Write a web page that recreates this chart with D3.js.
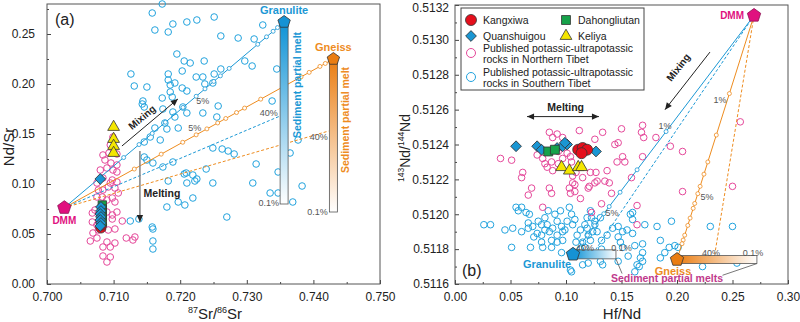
<!DOCTYPE html>
<html>
<head>
<meta charset="utf-8">
<script src="https://cdn.jsdelivr.net/npm/d3@7"></script>
<style>
  body { margin: 0; background: #fff; }
  text { font-family: "Liberation Sans", Arial, sans-serif; }
</style>
</head>
<body>
<svg id="chart" width="800" height="322"></svg>
<script>
// ---------- panel (a): 87Sr/86Sr vs Nd/Sr ----------
const aKangxiwa = [[0.7081,0.056],[0.7082,0.059]];
const aDahongliutan = [[0.7083,0.079],[0.7083,0.075],[0.7083,0.071],[0.7083,0.067],[0.7083,0.062]];
const aQuanshuigou = [[0.7080,0.105],[0.7081,0.077],[0.7081,0.073],[0.7080,0.070],[0.7081,0.067],[0.7080,0.064],[0.7081,0.061],[0.7080,0.058]];
const aKeliya = [[0.7100,0.157],[0.7100,0.145],[0.7100,0.138],[0.7100,0.131]];
const aNorthTibet = [
  [0.7084,0.129],[0.7093,0.131],[0.7105,0.130],[0.7087,0.124],[0.7096,0.121],[0.7105,0.119],[0.7090,0.116],
  [0.7099,0.114],[0.7080,0.114],[0.7105,0.112],[0.7084,0.106],[0.7098,0.104],[0.7105,0.102],[0.7075,0.101],
  [0.7095,0.101],[0.7092,0.097],[0.7102,0.096],[0.7077,0.094],[0.7084,0.094],[0.7107,0.091],[0.7083,0.087],
  [0.7098,0.086],[0.7090,0.084],[0.7102,0.082],[0.7075,0.087],[0.7068,0.071],[0.7072,0.074],[0.7090,0.072],
  [0.7105,0.072],[0.7098,0.069],[0.7068,0.062],[0.7098,0.065],[0.7113,0.063],[0.7075,0.059],[0.7077,0.054],
  [0.7092,0.054],[0.7102,0.055],[0.7069,0.051],[0.7065,0.043],[0.7075,0.046],[0.7090,0.042],[0.7102,0.041],
  [0.7084,0.037],[0.7095,0.037],[0.7084,0.028],[0.7095,0.027],[0.7090,0.022],[0.7119,0.046],[0.7129,0.044],
  [0.7132,0.047],[0.7099,0.147],[0.7095,0.139]
];
const aSouthTibet = [
  [0.7173,0.280],[0.7158,0.271],[0.7162,0.254],[0.7182,0.252],[0.7189,0.260],[0.7210,0.262],[0.7225,0.264],
  [0.7251,0.267],[0.7261,0.248],[0.7287,0.246],[0.7324,0.259],[0.7311,0.245],[0.7195,0.230],[0.7215,0.221],
  [0.7236,0.223],[0.7206,0.223],[0.7297,0.223],[0.7308,0.218],[0.7126,0.210],[0.7131,0.198],[0.7150,0.197],
  [0.7182,0.210],[0.7182,0.204],[0.7185,0.199],[0.7192,0.201],[0.7203,0.196],[0.7210,0.193],[0.7203,0.213],
  [0.7224,0.207],[0.7234,0.207],[0.7237,0.200],[0.7251,0.210],[0.7261,0.215],[0.7249,0.201],[0.7185,0.192],
  [0.7188,0.187],[0.7173,0.186],[0.7144,0.183],[0.7143,0.180],[0.7146,0.177],[0.7174,0.175],[0.7189,0.172],
  [0.7204,0.177],[0.7192,0.167],[0.7210,0.171],[0.7234,0.171],[0.7257,0.178],[0.7255,0.167],[0.7177,0.161],
  [0.7162,0.156],[0.7180,0.155],[0.7197,0.156],[0.7155,0.147],[0.7146,0.127],[0.7146,0.142],[0.7170,0.144],
  [0.7345,0.215],[0.7338,0.183],[0.7249,0.136],[0.7263,0.135],[0.7272,0.133],[0.7281,0.130],[0.7377,0.144],
  [0.7365,0.131],[0.7314,0.120],[0.7347,0.112],[0.7209,0.111],[0.7219,0.109],[0.7225,0.105],[0.7210,0.101],
  [0.7249,0.101],[0.7309,0.101],[0.7383,0.098],[0.7335,0.091],[0.7347,0.091],[0.7219,0.086],[0.7207,0.079],
  [0.7369,0.082],[0.7270,0.067],[0.7239,0.115],[0.7150,0.124],[0.7159,0.121],[0.7174,0.117],[0.7189,0.122],
  [0.7182,0.103],[0.7206,0.110],[0.7222,0.103],[0.7197,0.082],[0.7180,0.077],[0.7125,0.063],[0.7138,0.065],
  [0.7158,0.057],[0.7159,0.055],[0.7159,0.043],[0.7159,0.035]
];
// end members and melting trends
const aDMM = [0.7026, 0.0763];
const aGranulite = [0.7356, 0.262];
const aGneiss = [0.7430, 0.225];
const aGranulite40 = [0.7350, 0.168];
const aGneiss40 = [0.7423, 0.153];
const aGranuliteMin = 0.080;   // Nd/Sr of 0.1% melt
const aGneissMin = 0.072;
const aGranuliteTicks = [0.27,0.34,0.40,0.46,0.54,0.60,0.64,0.68,0.71,0.75,0.88,0.92,0.95,0.97];
const aGneissTicks = [0.26,0.36,0.44,0.49,0.53,0.57,0.60,0.64,0.67,0.73,0.88,0.91,0.95,0.97];
const aXTicks = [0.70,0.71,0.72,0.73,0.74,0.75];
const aYTicks = [0,0.05,0.10,0.15,0.20,0.25];

// ---------- panel (b): Hf/Nd vs 143Nd/144Nd ----------
const bKangxiwa = [[0.111,0.51237],[0.115,0.51238],[0.119,0.51237],[0.114,0.51235]];
const bDahongliutan = [[0.084,0.51236],[0.090,0.51237]];
const bQuanshuigou = [[0.055,0.51239],[0.074,0.51239],[0.078,0.51237],[0.092,0.51238],[0.097,0.51239],
  [0.101,0.51240],[0.099,0.51241],[0.127,0.51236]];
const bKeliya = [[0.096,0.51227],[0.103,0.51225],[0.111,0.51227],[0.114,0.51227]];
const bNorthTibet = [
  [0.085,0.51247],[0.092,0.51246],[0.097,0.51244],[0.088,0.51244],[0.112,0.51248],[0.133,0.51247],[0.126,0.51243],
  [0.041,0.51232],[0.051,0.51231],[0.081,0.51229],[0.087,0.51230],[0.093,0.51229],[0.105,0.51230],[0.083,0.51227],
  [0.088,0.51225],[0.109,0.51224],[0.122,0.51224],[0.127,0.51224],[0.137,0.51225],[0.061,0.51224],[0.060,0.51221],
  [0.115,0.51221],[0.128,0.51219],[0.139,0.51218],[0.069,0.51215],[0.085,0.51215],[0.103,0.51215],[0.120,0.51215],
  [0.087,0.51212],[0.104,0.51212],[0.108,0.51217],[0.066,0.51211],[0.113,0.51209],[0.132,0.51206],[0.141,0.51212],
  [0.079,0.51204],[0.144,0.51240],[0.146,0.51230],[0.147,0.51241],[0.093,0.51236],[0.083,0.51236],[0.101,0.51235],
  [0.079,0.51232],[0.097,0.51232],[0.104,0.51233],[0.074,0.51234],[0.106,0.51218],[0.108,0.51213],[0.121,0.51216],
  [0.123,0.51201],[0.106,0.51222],[0.150,0.51249],[0.169,0.51251],[0.168,0.51247],[0.170,0.51244],[0.181,0.51244],
  [0.194,0.51239],[0.205,0.51236],[0.257,0.51253],[0.151,0.51233],[0.153,0.51230],[0.169,0.51233],[0.135,0.51219],
  [0.126,0.51218],[0.159,0.51221],[0.164,0.51205],[0.164,0.51194],[0.205,0.51213],[0.250,0.51216]
];
const bSouthTibet = [
  [0.026,0.51194],[0.032,0.51194],[0.052,0.51192],[0.055,0.51204],[0.060,0.51204],[0.057,0.51202],[0.064,0.51201],
  [0.067,0.51200],[0.066,0.51195],[0.070,0.51193],[0.075,0.51196],[0.078,0.51194],[0.081,0.51198],[0.083,0.51194],
  [0.074,0.51189],[0.071,0.51187],[0.078,0.51188],[0.085,0.51190],[0.088,0.51192],[0.092,0.51196],[0.096,0.51193],
  [0.101,0.51196],[0.103,0.51204],[0.105,0.51200],[0.106,0.51194],[0.097,0.51190],[0.092,0.51188],[0.087,0.51185],
  [0.078,0.51184],[0.068,0.51181],[0.079,0.51181],[0.092,0.51184],[0.097,0.51185],[0.110,0.51188],[0.113,0.51191],
  [0.117,0.51194],[0.119,0.51198],[0.123,0.51198],[0.126,0.51194],[0.128,0.51190],[0.120,0.51188],[0.115,0.51184],
  [0.109,0.51184],[0.132,0.51185],[0.137,0.51188],[0.126,0.51196],[0.131,0.51198],[0.142,0.51192],[0.147,0.51193],
  [0.151,0.51190],[0.160,0.51189],[0.160,0.51201],[0.158,0.51200],[0.160,0.51197],[0.167,0.51175],[0.169,0.51173],
  [0.162,0.51167],[0.164,0.51171],[0.169,0.51183],[0.147,0.51173],[0.131,0.51173],[0.120,0.51172],[0.104,0.51168],
  [0.096,0.51178],[0.051,0.51181],[0.066,0.51192],[0.171,0.51194],[0.182,0.51193],[0.195,0.51196],[0.230,0.51193],
  [0.250,0.51193],[0.185,0.51185],[0.193,0.51181],[0.201,0.51181],[0.198,0.51182],[0.189,0.51178],[0.185,0.51175],
  [0.169,0.51178],[0.166,0.51170],[0.162,0.51182],[0.149,0.51184],[0.147,0.51187],[0.155,0.51191],[0.133,0.51171],
  [0.119,0.51192],[0.124,0.51190],[0.122,0.51185],[0.223,0.51170],[0.254,0.51172],[0.132,0.51180],[0.060,0.51190],
  [0.045,0.51191],[0.105,0.51167],[0.084,0.51202],[0.095,0.51202],[0.090,0.51200],[0.099,0.51191],[0.081,0.51191],
  [0.108,0.51197],[0.122,0.51202],[0.087,0.51181],[0.113,0.51180],[0.117,0.51181],[0.151,0.51181],[0.156,0.51176],
  [0.115,0.51171]
];
const bDMM = [0.2694, 0.51314];
const bGranulite = [0.1063, 0.51177];
const bGneiss = [0.2000, 0.51174];
const bGranulite40 = [0.127, 0.51180];
const bGneiss40 = [0.234, 0.51177];
const bGranuliteMin = 0.145;   // Hf/Nd of 0.1% melt
const bGneissMin = 0.272;
const bGranuliteTicks = [0.486,0.646,0.74,0.80,0.83,0.88,0.92,0.95];
const bGneissTicks = [0.32,0.49,0.60,0.65,0.70,0.73,0.77,0.79,0.83,0.86,0.90,0.92,0.935];
const bXTicks = [0,0.05,0.10,0.15,0.20,0.25,0.30];
const bYTicks = [0.5116,0.5118,0.5120,0.5122,0.5124,0.5126,0.5128,0.5130,0.5132];

// colours
const cBlue = "#22a3de", cLine = "#1b98d5", cOrange = "#ee8c1f", cPink = "#e5489a",
      cDMM = "#e0117f", cRed = "#e50f1c", cGreen = "#17a24a", cDia = "#1a96d3",
      cYellow = "#f4e600", cEdge = "#333", cGrey = "#555";

const svg = d3.select("#chart");

const xa = d3.scaleLinear().domain([0.70, 0.75]).range([47, 380]);
const ya = d3.scaleLinear().domain([0, 0.28]).range([284, 4]);
const xb = d3.scaleLinear().domain([0, 0.30]).range([455, 788]);
const yb = d3.scaleLinear().domain([0.5116, 0.5132]).range([284, 5]);

// gradients for the sediment melt bars
const defs = svg.append("defs");
function grad(id, color, vertical) {
  const g = defs.append("linearGradient").attr("id", id)
    .attr("x1", 0).attr("y1", 0).attr("x2", vertical ? 0 : 1).attr("y2", vertical ? 1 : 0);
  g.append("stop").attr("offset", 0).attr("stop-color", color);
  g.append("stop").attr("offset", 1).attr("stop-color", "#fff");
}
grad("gGranA", "#0f93d6", true);
grad("gGneissA", "#ea7d12", true);
grad("gGranB", "#0f93d6", false);
grad("gGneissB", "#ea7d12", false);

function pentagon(r) {
  const pts = d3.range(5).map(k => {
    const a = -Math.PI / 2 + k * 2 * Math.PI / 5;
    return [r * Math.cos(a), r * Math.sin(a)];
  });
  return "M" + pts.map(p => p.join(",")).join("L") + "Z";
}

// frame + ticks
function drawAxes(x, y, xt, yt, xf, yf, xMinor, yMinor, yPad) {
  const [x0, x1] = x.range(), [y0, y1] = y.range();
  const ax = svg.append("g").attr("transform", `translate(0,${y0})`)
    .call(d3.axisBottom(x).tickValues(xt).tickFormat(xf).tickSizeInner(-4).tickSizeOuter(0).tickPadding(8));
  const axm = svg.append("g").attr("transform", `translate(0,${y0})`)
    .call(d3.axisBottom(x).tickValues(xMinor).tickFormat("").tickSizeInner(-2).tickSizeOuter(0));
  const ay = svg.append("g").attr("transform", `translate(${x0},0)`)
    .call(d3.axisLeft(y).tickValues(yt).tickFormat(yf).tickSizeInner(-4).tickSizeOuter(0).tickPadding(yPad));
  const aym = svg.append("g").attr("transform", `translate(${x0},0)`)
    .call(d3.axisLeft(y).tickValues(yMinor).tickFormat("").tickSizeInner(-2).tickSizeOuter(0));
  [ax, axm, ay, aym].forEach(g => {
    g.select(".domain").remove();
    g.selectAll("line").attr("stroke", "#444");
    g.selectAll("text").attr("font-size", 12).attr("fill", "#222")
      .attr("font-family", "'Liberation Sans', Arial, sans-serif");
  });
  // keep the topmost y label inside the page
  ay.selectAll("text").filter(d => y(d) < 8).attr("dy", "0.5em");
  svg.append("rect").attr("x", x0).attr("y", y1).attr("width", x1 - x0).attr("height", y0 - y1)
    .attr("fill", "none").attr("stroke", "#555").attr("stroke-width", 1);
}

function openCircles(data, x, y, color) {
  svg.append("g").selectAll("circle").data(data).join("circle")
    .attr("cx", d => x(d[0])).attr("cy", d => y(d[1])).attr("r", 3.3)
    .attr("fill", "none").attr("stroke", color).attr("stroke-width", 1);
}

function samples(data, x, y, type, size, fill, rot) {
  svg.append("g").selectAll("path").data(data).join("path")
    .attr("d", d3.symbol().type(type).size(size))
    .attr("transform", d => `translate(${x(d[0])},${y(d[1])}) rotate(${rot || 0})`)
    .attr("fill", fill).attr("stroke", cEdge).attr("stroke-width", 0.8);
}

function mixLine(x, y, a, b, color, dashed, ticks) {
  svg.append("line")
    .attr("x1", x(a[0])).attr("y1", y(a[1])).attr("x2", x(b[0])).attr("y2", y(b[1]))
    .attr("stroke", color).attr("stroke-width", 1)
    .attr("stroke-dasharray", dashed ? "3,2" : null);
  if (ticks) {
    svg.append("g").selectAll("circle").data(ticks).join("circle")
      .attr("cx", t => x(a[0] + t * (b[0] - a[0])))
      .attr("cy", t => y(a[1] + t * (b[1] - a[1])))
      .attr("r", 2).attr("fill", "#fff").attr("stroke", color).attr("stroke-width", 0.8);
  }
}

function label(txt, x, y, opts) {
  const o = Object.assign({ size: 9, fill: cGrey, weight: "normal", anchor: "middle", rotate: 0 }, opts);
  return svg.append("text")
    .attr("transform", `translate(${x},${y}) rotate(${o.rotate})`)
    .attr("text-anchor", o.anchor).attr("font-size", o.size).attr("font-weight", o.weight)
    .attr("fill", o.fill).text(txt);
}

function arrow(x1, y1, x2, y2, color, width, both) {
  const ang = Math.atan2(y2 - y1, x2 - x1), L = 7, W = 3.2;
  function head(px, py, a) {
    const bx = px - L * Math.cos(a), by = py - L * Math.sin(a);
    svg.append("path")
      .attr("d", `M${px},${py}L${bx + W * Math.sin(a)},${by - W * Math.cos(a)}L${bx - W * Math.sin(a)},${by + W * Math.cos(a)}Z`)
      .attr("fill", "#222");
  }
  svg.append("line").attr("x1", x1).attr("y1", y1).attr("x2", x2).attr("y2", y2)
    .attr("stroke", color).attr("stroke-width", width);
  head(x2, y2, ang);
  if (both) head(x1, y1, ang + Math.PI);
}

// ================= panel (a) =================
drawAxes(xa, ya, aXTicks, aYTicks, d3.format(".3f"), d3.format(".2f"),
  d3.range(0.705, 0.75, 0.01), d3.range(0.025, 0.28, 0.05), 12);

openCircles(aSouthTibet, xa, ya, cBlue);
openCircles(aNorthTibet, xa, ya, cPink);

mixLine(xa, ya, aDMM, aGranulite40, cLine, true);
mixLine(xa, ya, aDMM, aGneiss40, cOrange, true);
mixLine(xa, ya, aDMM, aGranulite, cLine, false, aGranuliteTicks);
mixLine(xa, ya, aDMM, aGneiss, cOrange, false, aGneissTicks);

samples(aKangxiwa, xa, ya, d3.symbolCircle, 80, cRed);
samples(aDahongliutan, xa, ya, d3.symbolSquare, 70, cGreen);
samples(aQuanshuigou, xa, ya, d3.symbolSquare, 58, cDia, 45);
samples(aKeliya, xa, ya, d3.symbolTriangle, 60, cYellow);

// sediment melt bars
svg.append("rect").attr("x", xa(aGranulite[0]) - 4).attr("y", ya(aGranulite[1]))
  .attr("width", 8).attr("height", ya(aGranuliteMin) - ya(aGranulite[1]))
  .attr("fill", "url(#gGranA)").attr("stroke", "#555").attr("stroke-width", 0.8);
svg.append("rect").attr("x", xa(aGneiss[0]) - 4).attr("y", ya(aGneiss[1]))
  .attr("width", 8).attr("height", ya(aGneissMin) - ya(aGneiss[1]))
  .attr("fill", "url(#gGneissA)").attr("stroke", "#555").attr("stroke-width", 0.8);

svg.append("path").attr("d", pentagon(7)).attr("transform", `translate(${xa(aDMM[0])},${ya(aDMM[1])})`)
  .attr("fill", cDMM).attr("stroke", "#8a1050").attr("stroke-width", 0.8);
svg.append("path").attr("d", pentagon(6.5)).attr("transform", `translate(${xa(aGranulite[0])},${ya(aGranulite[1])})`)
  .attr("fill", "#1592d4").attr("stroke", "#333").attr("stroke-width", 0.8);
svg.append("path").attr("d", pentagon(6.5)).attr("transform", `translate(${xa(aGneiss[0])},${ya(aGneiss[1])})`)
  .attr("fill", "#ea7d12").attr("stroke", "#333").attr("stroke-width", 0.8);

label("DMM", xa(aDMM[0]), ya(aDMM[1]) + 16, { size: 10, fill: cDMM, weight: "bold" });
label("Granulite", xa(aGranulite[0]), ya(aGranulite[1]) - 8, { size: 11, fill: cLine, weight: "bold" });
label("Gneiss", xa(aGneiss[0]), ya(aGneiss[1]) - 8, { size: 11, fill: cOrange, weight: "bold" });
label("Sediment partial melt", xa(aGranulite[0]) + 17, ya(0.199), { size: 10.5, fill: cLine, weight: "bold", rotate: -90 });
label("Sediment partial melt", xa(aGneiss[0]) + 16, ya(0.164), { size: 10.5, fill: cOrange, weight: "bold", rotate: -90 });
label("5%", xa(0.7234), ya(0.180));
label("5%", xa(0.7222), ya(0.153));
label("40%", xa(0.7333), ya(0.168));
label("40%", xa(0.7408), ya(0.144));
label("0.1%", xa(0.7333), ya(0.078));
label("0.1%", xa(0.7406), ya(0.069));

arrow(xa(0.71125), ya(0.138), xa(0.71965), ya(0.185), "#222", 1);
label("Mixing", xa(0.7146), ya(0.164), { size: 10, fill: "#222", weight: "bold", rotate: -40 });
arrow(xa(0.71395), ya(0.133), xa(0.71395), ya(0.062), "#888", 1.6);
label("Melting", xa(0.7145), ya(0.087), { size: 10.5, fill: "#222", weight: "bold", anchor: "start" });

label("(a)", 55, 25, { size: 16, fill: "#222", anchor: "start" });

// axis titles (a)
svg.append("text").attr("transform", "translate(14,147) rotate(-90)").attr("text-anchor", "middle")
  .attr("font-size", 15).attr("fill", "#222").text("Nd/Sr");
const ta = svg.append("text").attr("x", 215).attr("y", 319).attr("text-anchor", "middle")
  .attr("font-size", 15).attr("fill", "#222");
ta.append("tspan").attr("font-size", 9).attr("dy", -6).text("87");
ta.append("tspan").attr("dy", 6).text("Sr/");
ta.append("tspan").attr("font-size", 9).attr("dy", -6).text("86");
ta.append("tspan").attr("dy", 6).text("Sr");

// ================= panel (b) =================
drawAxes(xb, yb, bXTicks, bYTicks, d3.format(".2f"), d3.format(".4f"),
  d3.range(0.025, 0.30, 0.05), d3.range(0.5117, 0.5132, 0.0002), 6);

openCircles(bSouthTibet, xb, yb, cBlue);
openCircles(bNorthTibet, xb, yb, cPink);

mixLine(xb, yb, bDMM, bGranulite40, cLine, true);
mixLine(xb, yb, bDMM, bGneiss40, cOrange, true);
mixLine(xb, yb, bDMM, bGranulite, cLine, false, bGranuliteTicks);
mixLine(xb, yb, bDMM, bGneiss, cOrange, false, bGneissTicks);

samples(bQuanshuigou, xb, yb, d3.symbolSquare, 58, cDia, 45);
samples(bDahongliutan, xb, yb, d3.symbolSquare, 80, cGreen);
samples(bKangxiwa, xb, yb, d3.symbolCircle, 95, cRed);
samples(bKeliya, xb, yb, d3.symbolTriangle, 60, cYellow);

svg.append("rect").attr("x", xb(bGranulite[0])).attr("y", yb(bGranulite[1]) - 4.5)
  .attr("width", xb(bGranuliteMin) - xb(bGranulite[0])).attr("height", 9)
  .attr("fill", "url(#gGranB)").attr("stroke", "#555").attr("stroke-width", 0.8);
svg.append("rect").attr("x", xb(bGneiss[0])).attr("y", yb(bGneiss[1]) - 4)
  .attr("width", xb(bGneissMin) - xb(bGneiss[0])).attr("height", 8)
  .attr("fill", "url(#gGneissB)").attr("stroke", "#555").attr("stroke-width", 0.8);

svg.append("path").attr("d", pentagon(7)).attr("transform", `translate(${xb(bDMM[0])},${yb(bDMM[1])})`)
  .attr("fill", cDMM).attr("stroke", "#8a1050").attr("stroke-width", 0.8);
svg.append("path").attr("d", pentagon(7)).attr("transform", `translate(${xb(bGranulite[0])},${yb(bGranulite[1])})`)
  .attr("fill", "#1592d4").attr("stroke", "#333").attr("stroke-width", 0.8);
svg.append("path").attr("d", pentagon(7)).attr("transform", `translate(${xb(bGneiss[0])},${yb(bGneiss[1])})`)
  .attr("fill", "#ea7d12").attr("stroke", "#333").attr("stroke-width", 0.8);

label("DMM", xb(bDMM[0]) - 10, yb(bDMM[1]) + 4, { size: 10, fill: cDMM, weight: "bold", anchor: "end" });
label("Granulite", xb(0.0829), yb(0.51169), { size: 11, fill: cLine, weight: "bold" });
label("Gneiss", xb(0.1964), yb(0.51165), { size: 11, fill: cOrange, weight: "bold" });
label("Sediment partial melts", xb(0.191), yb(0.51161), { size: 10.5, fill: "#c03a8c", weight: "bold" });
// callout lines from the label to both bars
svg.append("line").attr("x1", xb(bGranuliteMin)).attr("y1", yb(bGranulite[1]) + 4.5)
  .attr("x2", xb(0.1505)).attr("y2", yb(0.51166)).attr("stroke", "#555").attr("stroke-width", 0.8);
svg.append("line").attr("x1", xb(bGneissMin)).attr("y1", yb(bGneiss[1]) + 4)
  .attr("x2", xb(0.241)).attr("y2", yb(0.51165)).attr("stroke", "#555").attr("stroke-width", 0.8);

label("1%", xb(0.1892), yb(0.51249));
label("1%", xb(0.2387), yb(0.51264));
label("5%", xb(0.1414), yb(0.51199));
label("5%", xb(0.2270), yb(0.51208));
label("40%", xb(0.117), yb(0.51179));
label("0.1%", xb(0.150), yb(0.51179));
label("40%", xb(0.2306), yb(0.51176));
label("0.1%", xb(0.2685), yb(0.51176));

arrow(xb(0.2297), yb(0.51293), xb(0.1892), yb(0.51260), "#222", 1);
label("Mixing", xb(0.2037), yb(0.51283), { size: 10, fill: "#222", weight: "bold", rotate: -52 });
arrow(xb(0.0649), yb(0.51256), xb(0.1297), yb(0.51256), "#222", 1, true);
label("Melting", xb(0.0997), yb(0.51259), { size: 10.5, fill: "#222", weight: "bold" });

label("(b)", 462, 276, { size: 16, fill: "#222", anchor: "start" });

// legend
const lg = svg.append("g");
lg.append("rect").attr("x", 461).attr("y", 8).attr("width", 183).attr("height", 82)
  .attr("fill", "#fff").attr("stroke", "#444").attr("stroke-width", 1);
const legendRows = [
  { t: ["Kangxiwa"], x: 471, y: 20, sym: d3.symbolCircle, s: 95, f: cRed },
  { t: ["Dahongliutan"], x: 566, y: 20, sym: d3.symbolSquare, s: 80, f: cGreen },
  { t: ["Quanshuigou"], x: 471, y: 36, sym: d3.symbolSquare, s: 58, f: cDia, r: 45 },
  { t: ["Keliya"], x: 566, y: 36, sym: d3.symbolTriangle, s: 60, f: cYellow },
  { t: ["Published potassic-ultrapotassic", "rocks in Northern Tibet"], x: 471, y: 53, open: cPink },
  { t: ["Published potassic-ultrapotassic", "rocks in Southern Tibet"], x: 471, y: 77, open: cBlue }
];
legendRows.forEach(d => {
  if (d.open) {
    lg.append("circle").attr("cx", d.x).attr("cy", d.y).attr("r", 4.5)
      .attr("fill", "none").attr("stroke", d.open).attr("stroke-width", 1);
  } else {
    lg.append("path").attr("d", d3.symbol().type(d.sym).size(d.s))
      .attr("transform", `translate(${d.x},${d.y}) rotate(${d.r || 0})`)
      .attr("fill", d.f).attr("stroke", cEdge).attr("stroke-width", 0.8);
  }
  const t = lg.append("text").attr("x", d.x + 12).attr("y", d.t.length > 1 ? d.y - 1 : d.y + 4)
    .attr("font-size", 10.5).attr("fill", "#222");
  d.t.forEach((line, i) => t.append("tspan").attr("x", d.x + 12).attr("dy", i ? 11 : 0).text(line));
});

// axis titles (b)
const tb = svg.append("text").attr("transform", "translate(410,148) rotate(-90)").attr("text-anchor", "middle")
  .attr("font-size", 14).attr("fill", "#222");
tb.append("tspan").attr("font-size", 8.5).attr("dy", -6).text("143");
tb.append("tspan").attr("dy", 6).text("Nd/");
tb.append("tspan").attr("font-size", 8.5).attr("dy", -6).text("144");
tb.append("tspan").attr("dy", 6).text("Nd");
svg.append("text").attr("x", 622).attr("y", 319).attr("text-anchor", "middle")
  .attr("font-size", 15).attr("fill", "#222").text("Hf/Nd");
</script>
</body>
</html>
